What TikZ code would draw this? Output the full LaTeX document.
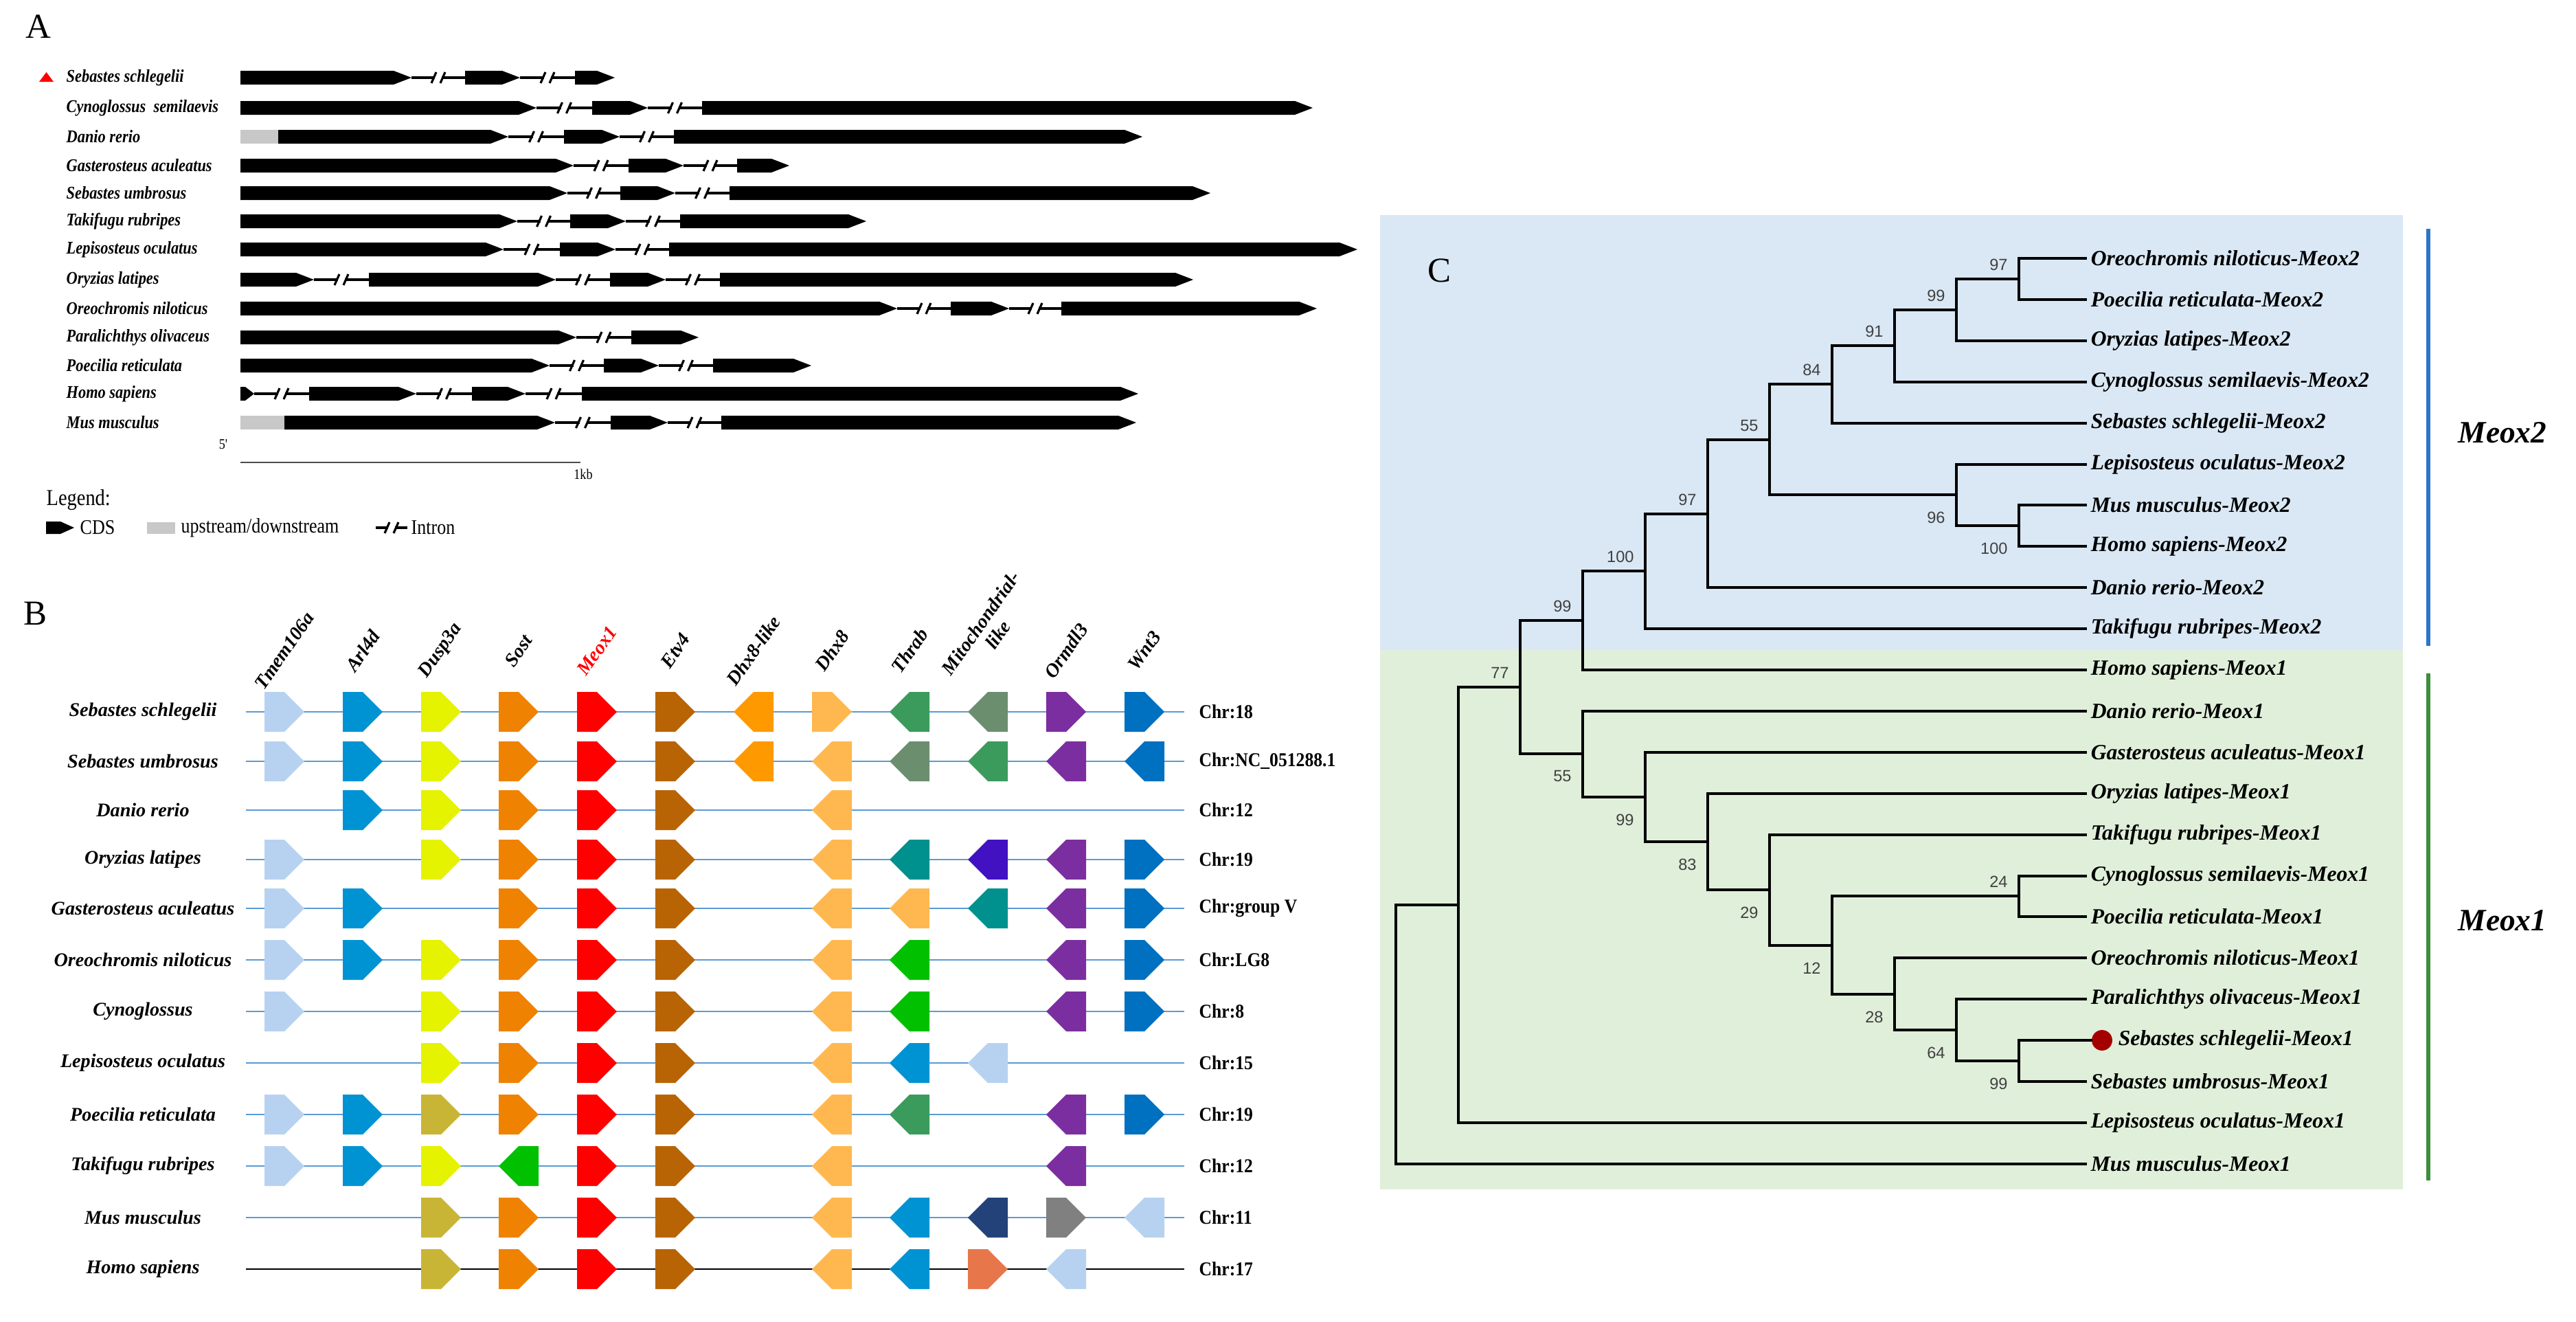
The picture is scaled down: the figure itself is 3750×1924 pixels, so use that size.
\documentclass[tikz,border=0pt]{standalone}
\usepackage{fontspec}
\setmainfont{Liberation Serif}
\newfontfamily\numfont{Liberation Sans}
\newfontfamily\narrowserif[FakeStretch=0.86]{Liberation Serif}
\newfontfamily\chrfont[FakeStretch=0.9]{Liberation Serif}

\definecolor{ctmem}{HTML}{B7D2F1}
\definecolor{carl}{HTML}{0093D3}
\definecolor{cdusp}{HTML}{E5F200}
\definecolor{colive}{HTML}{C9B535}
\definecolor{csost}{HTML}{EF8200}
\definecolor{cmeox}{HTML}{FF0000}
\definecolor{cetv}{HTML}{B86405}
\definecolor{cdhxl}{HTML}{FF9900}
\definecolor{cdhx}{HTML}{FFB850}
\definecolor{cgreen}{HTML}{3A9B5C}
\definecolor{cgraygreen}{HTML}{6B8E6F}
\definecolor{cbgreen}{HTML}{00C000}
\definecolor{cteal}{HTML}{00908E}
\definecolor{cindigo}{HTML}{4111C2}
\definecolor{cpurple}{HTML}{7B2EA0}
\definecolor{cwnt}{HTML}{0070C0}
\definecolor{cnavy}{HTML}{23427A}
\definecolor{cgray}{HTML}{808080}
\definecolor{ccoral}{HTML}{E8764B}
\definecolor{lineblue}{HTML}{5B9BD5}
\definecolor{bgblue}{HTML}{DAE8F5}
\definecolor{bggreen}{HTML}{E0EFDA}
\definecolor{barblue}{HTML}{2E75C6}
\definecolor{bargreen}{HTML}{3E8E3E}
\definecolor{dotred}{HTML}{A50000}
\definecolor{upgray}{HTML}{C8C8C8}

% exon: x1, x2, y
\newcommand\exon[3]{\fill[black] (#1,#3-10) -- (#2-26,#3-10) -- (#2,#3) -- (#2-26,#3+10) -- (#1,#3+10) -- cycle;}
% intron: x1, x2, y
\newcommand\intron[3]{%
  \draw[intronline] (#1,#3) -- ({(#1+#2)/2-5},#3) ({(#1+#2)/2+5},#3) -- (#2,#3);
  \draw[intronline] ({(#1+#2)/2-10},#3+8) -- ({(#1+#2)/2-3},#3-8) ({(#1+#2)/2+3},#3+8) -- ({(#1+#2)/2+10},#3-8);}
% gene boxes: cx, cy, colour
\newcommand\gf[3]{\fill[#3] (#1-29,#2-29) -- (#1,#2-29) -- (#1+29,#2) -- (#1,#2+29) -- (#1-29,#2+29) -- cycle;}
\newcommand\gr[3]{\fill[#3] (#1+29,#2-29) -- (#1,#2-29) -- (#1-29,#2) -- (#1,#2+29) -- (#1+29,#2+29) -- cycle;}

\tikzset{
  panellbl/.style={font=\fontsize{14.5}{16}\selectfont, inner sep=0pt},
  spA/.style={font=\narrowserif\bfseries\itshape\fontsize{7.4}{8}\selectfont, anchor=west, inner sep=0pt},
  spB/.style={font=\bfseries\itshape\fontsize{8}{9}\selectfont, inner sep=0pt},
  genelbl/.style={font=\bfseries\itshape\fontsize{8}{8.6}\selectfont, inner sep=0pt, rotate=55},
  chrlbl/.style={font=\chrfont\bfseries\fontsize{8.1}{9}\selectfont, anchor=west, inner sep=0pt},
  leaf/.style={font=\bfseries\itshape\fontsize{9}{10}\selectfont, anchor=west, inner xsep=2pt, inner ysep=0pt},
  boot/.style={font=\numfont\fontsize{6.7}{7}\selectfont, text=black!75, inner sep=0pt},
  clade/.style={font=\bfseries\itshape\fontsize{12.9}{14}\selectfont, inner sep=0pt},
  branch/.style={line width=1.1pt, line cap=rect, line join=miter},
  intronline/.style={line width=0.9pt},
  chrline/.style={line width=0.7pt, draw=lineblue},
  legtxt/.style={font=\narrowserif\fontsize{8.6}{9}\selectfont, anchor=west, inner sep=0pt},
  smalltxt/.style={font=\narrowserif\fontsize{6}{7}\selectfont, inner sep=0pt},
  above lbl/.style={boot, anchor=south east},
  below lbl/.style={boot, anchor=north east},
}

\begin{document}
\begin{tikzpicture}[x=0.01cm, y=-0.01cm]
\useasboundingbox (0,0) rectangle (3750,1924);
\fill[white] (0,0) rectangle (3750,1924);

%================ PANEL A ================
\node[panellbl] (pA) at (56,39) {A};

\fill[red] (57,119) -- (78,119) -- (67.5,105) -- cycle;
\node[spA] (a1)  at (96,113) {Sebastes schlegelii};
\node[spA] (a2)  at (96,157) {Cynoglossus~~semilaevis};
\node[spA] (a3)  at (96,199) {Danio rerio};
\node[spA] (a4)  at (96,241) {Gasterosteus aculeatus};
\node[spA] (a5)  at (96,281) {Sebastes umbrosus};
\node[spA] (a6)  at (96,322) {Takifugu rubripes};
\node[spA] (a7)  at (96,363) {Lepisosteus oculatus};
\node[spA] (a8)  at (96,407) {Oryzias latipes};
\node[spA] (a9)  at (96,449) {Oreochromis niloticus};
\node[spA] (a10) at (96,491) {Paralichthys olivaceus};
\node[spA] (a11) at (96,532) {Poecilia reticulata};
\node[spA] (a12) at (96,573) {Homo sapiens};
\node[spA] (a13) at (96,615) {Mus musculus};

% row 1
\exon{350}{599}{113} \intron{599}{677}{113} \exon{677}{757}{113} \intron{757}{837}{113} \exon{837}{895}{113}
% row 2
\exon{350}{781}{157} \intron{781}{862}{157} \exon{862}{943}{157} \intron{943}{1022}{157} \exon{1022}{1911}{157}
% row 3
\fill[upgray] (350,189) rectangle (405,209);
\exon{405}{740}{199} \intron{740}{821}{199} \exon{821}{902}{199} \intron{902}{981}{199} \exon{981}{1663}{199}
% row 4
\exon{350}{835}{241} \intron{835}{915}{241} \exon{915}{995}{241} \intron{995}{1073}{241} \exon{1073}{1149}{241}
% row 5
\exon{350}{826}{281} \intron{826}{903}{281} \exon{903}{983}{281} \intron{983}{1062}{281} \exon{1062}{1762}{281}
% row 6
\exon{350}{753}{322} \intron{753}{830}{322} \exon{830}{911}{322} \intron{911}{990}{322} \exon{990}{1261}{322}
% row 7
\exon{350}{733}{363} \intron{733}{815}{363} \exon{815}{896}{363} \intron{896}{974}{363} \exon{974}{1976}{363}
% row 8
\exon{350}{457}{407} \intron{457}{537}{407} \exon{537}{809}{407} \intron{809}{888}{407} \exon{888}{969}{407} \intron{969}{1048}{407} \exon{1048}{1737}{407}
% row 9
\exon{350}{1306}{449} \intron{1306}{1384}{449} \exon{1384}{1469}{449} \intron{1469}{1545}{449} \exon{1545}{1917}{449}
% row 10
\exon{350}{839}{491} \intron{839}{919}{491} \exon{919}{1017}{491}
% row 11
\exon{350}{800}{532} \intron{800}{879}{532} \exon{879}{959}{532} \intron{959}{1038}{532} \exon{1038}{1181}{532}
% row 12
\fill[black] (350,563) -- (357,563) -- (370,573) -- (357,583) -- (350,583) -- cycle;
\intron{370}{450}{573} \exon{450}{606}{573} \intron{606}{687}{573} \exon{687}{765}{573} \intron{765}{847}{573} \exon{847}{1657}{573}
% row 13
\fill[upgray] (350,605) rectangle (414,625);
\exon{414}{808}{615} \intron{808}{889}{615} \exon{889}{972}{615} \intron{972}{1050}{615} \exon{1050}{1654}{615}

% scale
\node[smalltxt] (five) at (325,647) {5'};
\draw[line width=0.6pt, black!70] (350,673) -- (845,673);
\node[smalltxt] (kb) at (849,690) {1kb};

% legend
\node[legtxt, font=\narrowserif\fontsize{9.4}{10}\selectfont] (leg) at (67,728) {Legend:};
\fill[black] (67,759) -- (88,759) -- (108,768) -- (88,777) -- (67,777) -- cycle;
\node[legtxt] (lcds) at (116,768) {CDS};
\fill[upgray] (214,760) rectangle (255,777);
\node[legtxt] (lup) at (263,768) {upstream/downstream};
\intron{547}{593}{768}
\node[legtxt] (lint) at (598,768) {Intron};

%================ PANEL B ================
\node[panellbl] (pB) at (52,893) {B};

\node[genelbl] (g1)  at (414,947)  {Tmem106a};
\node[genelbl] (g2)  at (528,947)  {Arl4d};
\node[genelbl] (g3)  at (642,947)  {Dusp3a};
\node[genelbl] (g4)  at (755,947)  {Sost};
\node[genelbl, text=red] (g5) at (869,947) {Meox1};
\node[genelbl] (g6)  at (983,947)  {Etv4};
\node[genelbl] (g7)  at (1097,947) {Dhx8-like};
\node[genelbl] (g8)  at (1211,947) {Dhx8};
\node[genelbl] (g9)  at (1324,947) {Thrab};
\node[genelbl, align=center] (g10) at (1440,915) {Mitochondrial-\\like};
\node[genelbl] (g11) at (1552,947) {Ormdl3};
\node[genelbl] (g12) at (1666,947) {Wnt3};

% chromosome lines
\foreach \yy in {1036,1108,1179,1251,1322,1397,1472,1547,1622,1697,1772}
  \draw[chrline] (358,\yy) -- (1724,\yy);
\draw[line width=0.7pt, black] (358,1847) -- (1724,1847);

% species labels
\node[spB] (s1)  at (208,1036) {Sebastes schlegelii};
\node[spB] (s2)  at (208,1108) {Sebastes umbrosus};
\node[spB] (s3)  at (208,1179) {Danio rerio};
\node[spB] (s4)  at (208,1251) {Oryzias latipes};
\node[spB] (s5)  at (208,1322) {Gasterosteus aculeatus};
\node[spB] (s6)  at (208,1397) {Oreochromis niloticus};
\node[spB] (s7)  at (208,1472) {Cynoglossus};
\node[spB] (s8)  at (208,1547) {Lepisosteus oculatus};
\node[spB] (s9)  at (208,1622) {Poecilia reticulata};
\node[spB] (s10) at (208,1697) {Takifugu rubripes};
\node[spB] (s11) at (208,1772) {Mus musculus};
\node[spB] (s12) at (208,1847) {Homo sapiens};

% chromosome labels
\node[chrlbl] (c1)  at (1745,1036) {Chr:18};
\node[chrlbl] (c2)  at (1745,1108) {Chr:NC\_051288.1};
\node[chrlbl] (c3)  at (1745,1179) {Chr:12};
\node[chrlbl] (c4)  at (1745,1251) {Chr:19};
\node[chrlbl] (c5)  at (1745,1322) {Chr:group V};
\node[chrlbl] (c6)  at (1745,1397) {Chr:LG8};
\node[chrlbl] (c7)  at (1745,1472) {Chr:8};
\node[chrlbl] (c8)  at (1745,1547) {Chr:15};
\node[chrlbl] (c9)  at (1745,1622) {Chr:19};
\node[chrlbl] (c10) at (1745,1697) {Chr:12};
\node[chrlbl] (c11) at (1745,1772) {Chr:11};
\node[chrlbl] (c12) at (1745,1847) {Chr:17};

% row 1
\gf{414}{1036}{ctmem} \gf{528}{1036}{carl} \gf{642}{1036}{cdusp} \gf{755}{1036}{csost} \gf{869}{1036}{cmeox} \gf{983}{1036}{cetv}
\gr{1097}{1036}{cdhxl} \gf{1211}{1036}{cdhx} \gr{1324}{1036}{cgreen} \gr{1438}{1036}{cgraygreen} \gf{1552}{1036}{cpurple} \gf{1666}{1036}{cwnt}
% row 2
\gf{414}{1108}{ctmem} \gf{528}{1108}{carl} \gf{642}{1108}{cdusp} \gf{755}{1108}{csost} \gf{869}{1108}{cmeox} \gf{983}{1108}{cetv}
\gr{1097}{1108}{cdhxl} \gr{1211}{1108}{cdhx} \gr{1324}{1108}{cgraygreen} \gr{1438}{1108}{cgreen} \gr{1552}{1108}{cpurple} \gr{1666}{1108}{cwnt}
% row 3
\gf{528}{1179}{carl} \gf{642}{1179}{cdusp} \gf{755}{1179}{csost} \gf{869}{1179}{cmeox} \gf{983}{1179}{cetv} \gr{1211}{1179}{cdhx}
% row 4
\gf{414}{1251}{ctmem} \gf{642}{1251}{cdusp} \gf{755}{1251}{csost} \gf{869}{1251}{cmeox} \gf{983}{1251}{cetv}
\gr{1211}{1251}{cdhx} \gr{1324}{1251}{cteal} \gr{1438}{1251}{cindigo} \gr{1552}{1251}{cpurple} \gf{1666}{1251}{cwnt}
% row 5
\gf{414}{1322}{ctmem} \gf{528}{1322}{carl} \gf{755}{1322}{csost} \gf{869}{1322}{cmeox} \gf{983}{1322}{cetv}
\gr{1211}{1322}{cdhx} \gr{1324}{1322}{cdhx} \gr{1438}{1322}{cteal} \gr{1552}{1322}{cpurple} \gf{1666}{1322}{cwnt}
% row 6
\gf{414}{1397}{ctmem} \gf{528}{1397}{carl} \gf{642}{1397}{cdusp} \gf{755}{1397}{csost} \gf{869}{1397}{cmeox} \gf{983}{1397}{cetv}
\gr{1211}{1397}{cdhx} \gr{1324}{1397}{cbgreen} \gr{1552}{1397}{cpurple} \gf{1666}{1397}{cwnt}
% row 7
\gf{414}{1472}{ctmem} \gf{642}{1472}{cdusp} \gf{755}{1472}{csost} \gf{869}{1472}{cmeox} \gf{983}{1472}{cetv}
\gr{1211}{1472}{cdhx} \gr{1324}{1472}{cbgreen} \gr{1552}{1472}{cpurple} \gf{1666}{1472}{cwnt}
% row 8
\gf{642}{1547}{cdusp} \gf{755}{1547}{csost} \gf{869}{1547}{cmeox} \gf{983}{1547}{cetv}
\gr{1211}{1547}{cdhx} \gr{1324}{1547}{carl} \gr{1438}{1547}{ctmem}
% row 9
\gf{414}{1622}{ctmem} \gf{528}{1622}{carl} \gf{642}{1622}{colive} \gf{755}{1622}{csost} \gf{869}{1622}{cmeox} \gf{983}{1622}{cetv}
\gr{1211}{1622}{cdhx} \gr{1324}{1622}{cgreen} \gr{1552}{1622}{cpurple} \gf{1666}{1622}{cwnt}
% row 10
\gf{414}{1697}{ctmem} \gf{528}{1697}{carl} \gf{642}{1697}{cdusp} \gr{755}{1697}{cbgreen} \gf{869}{1697}{cmeox} \gf{983}{1697}{cetv}
\gr{1211}{1697}{cdhx} \gr{1552}{1697}{cpurple}
% row 11
\gf{642}{1772}{colive} \gf{755}{1772}{csost} \gf{869}{1772}{cmeox} \gf{983}{1772}{cetv}
\gr{1211}{1772}{cdhx} \gr{1324}{1772}{carl} \gr{1438}{1772}{cnavy} \gf{1552}{1772}{cgray} \gr{1666}{1772}{ctmem}
% row 12
\gf{642}{1847}{colive} \gf{755}{1847}{csost} \gf{869}{1847}{cmeox} \gf{983}{1847}{cetv}
\gr{1211}{1847}{cdhx} \gr{1324}{1847}{carl} \gf{1438}{1847}{ccoral} \gr{1552}{1847}{ctmem}

%================ PANEL C ================
\fill[bgblue] (2009,313) rectangle (3498,946);
\fill[bggreen] (2009,946) rectangle (3498,1731);
\node[panellbl] (pC) at (2095,394) {C};

\draw[barblue, line width=1.5pt] (3535,333) -- (3535,940);
\draw[bargreen, line width=1.5pt] (3535,980) -- (3535,1718);
\node[clade] (m2) at (3643,630) {Meox2};
\node[clade] (m1) at (3643,1340) {Meox1};

% internal nodes
\coordinate (root) at (2032,1506);
\coordinate (n1)  at (2123,1317);
\coordinate (n2)  at (2213,1000);
\coordinate (n3)  at (2304,903);
\coordinate (n4)  at (2304,1097);
\coordinate (n5)  at (2395,831);
\coordinate (n6)  at (2486,748);
\coordinate (n7)  at (2576,640);
\coordinate (n8)  at (2667,559);
\coordinate (n9)  at (2848,720);
\coordinate (n10) at (2758,503);
\coordinate (n11) at (2848,451);
\coordinate (n12) at (2939,406);
\coordinate (n13) at (2939,765);
\coordinate (n14) at (2395,1160);
\coordinate (n15) at (2486,1225);
\coordinate (n16) at (2576,1295);
\coordinate (n17) at (2667,1376);
\coordinate (n18) at (2939,1304);
\coordinate (n19) at (2758,1447);
\coordinate (n20) at (2848,1499);
\coordinate (n21) at (2939,1544);

% leaves
\node[leaf] (t0)  at (3036,376)  {Oreochromis niloticus-Meox2};
\node[leaf] (t1)  at (3036,436)  {Poecilia reticulata-Meox2};
\node[leaf] (t2)  at (3036,496)  {Oryzias latipes-Meox2};
\node[leaf] (t3)  at (3036,556)  {Cynoglossus semilaevis-Meox2};
\node[leaf] (t4)  at (3036,616)  {Sebastes schlegelii-Meox2};
\node[leaf] (t5)  at (3036,676)  {Lepisosteus oculatus-Meox2};
\node[leaf] (t6)  at (3036,735)  {Mus musculus-Meox2};
\node[leaf] (t7)  at (3036,795)  {Homo sapiens-Meox2};
\node[leaf] (t8)  at (3036,855)  {Danio rerio-Meox2};
\node[leaf] (t9)  at (3036,915)  {Takifugu rubripes-Meox2};
\node[leaf] (t10) at (3036,975)  {Homo sapiens-Meox1};
\node[leaf] (t11) at (3036,1035) {Danio rerio-Meox1};
\node[leaf] (t12) at (3036,1095) {Gasterosteus aculeatus-Meox1};
\node[leaf] (t13) at (3036,1155) {Oryzias latipes-Meox1};
\node[leaf] (t14) at (3036,1215) {Takifugu rubripes-Meox1};
\node[leaf] (t15) at (3036,1275) {Cynoglossus semilaevis-Meox1};
\node[leaf] (t16) at (3036,1334) {Poecilia reticulata-Meox1};
\node[leaf] (t17) at (3036,1394) {Oreochromis niloticus-Meox1};
\node[leaf] (t18) at (3036,1454) {Paralichthys olivaceus-Meox1};
\node[circle, fill=dotred, inner sep=0pt, minimum size=8.5pt] (dot) at (3060,1514) {};
\node[leaf] (t19) at (3076,1514) {Sebastes schlegelii-Meox1};
\node[leaf] (t20) at (3036,1574) {Sebastes umbrosus-Meox1};
\node[leaf] (t21) at (3036,1634) {Lepisosteus oculatus-Meox1};
\node[leaf] (t22) at (3036,1694) {Mus musculus-Meox1};

% branches
\draw[branch] (root) |- (n1);  \draw[branch] (root) |- (t22.west);
\draw[branch] (n1) |- (n2);    \draw[branch] (n1) |- (t21.west);
\draw[branch] (n2) |- (n3);    \draw[branch] (n2) |- (n4);
\draw[branch] (n3) |- (n5);    \draw[branch] (n3) |- (t10.west);
\draw[branch] (n5) |- (n6);    \draw[branch] (n5) |- (t9.west);
\draw[branch] (n6) |- (n7);    \draw[branch] (n6) |- (t8.west);
\draw[branch] (n7) |- (n8);    \draw[branch] (n7) |- (n9);
\draw[branch] (n8) |- (n10);   \draw[branch] (n8) |- (t4.west);
\draw[branch] (n10) |- (n11);  \draw[branch] (n10) |- (t3.west);
\draw[branch] (n11) |- (n12);  \draw[branch] (n11) |- (t2.west);
\draw[branch] (n12) |- (t0.west); \draw[branch] (n12) |- (t1.west);
\draw[branch] (n9) |- (t5.west);  \draw[branch] (n9) |- (n13);
\draw[branch] (n13) |- (t6.west); \draw[branch] (n13) |- (t7.west);
\draw[branch] (n4) |- (t11.west); \draw[branch] (n4) |- (n14);
\draw[branch] (n14) |- (t12.west); \draw[branch] (n14) |- (n15);
\draw[branch] (n15) |- (t13.west); \draw[branch] (n15) |- (n16);
\draw[branch] (n16) |- (t14.west); \draw[branch] (n16) |- (n17);
\draw[branch] (n17) |- (n18);  \draw[branch] (n17) |- (n19);
\draw[branch] (n18) |- (t15.west); \draw[branch] (n18) |- (t16.west);
\draw[branch] (n19) |- (t17.west); \draw[branch] (n19) |- (n20);
\draw[branch] (n20) |- (t18.west); \draw[branch] (n20) |- (n21);
\draw[branch] (n21) |- (dot.west); \draw[branch] (n21) |- (t20.west);

% bootstrap values
\node[above lbl] (b12) at ([xshift=-4.5pt,yshift=3.4pt]n12) {97};
\node[above lbl] (b11) at ([xshift=-4.5pt,yshift=3.4pt]n11) {99};
\node[above lbl] (b10) at ([xshift=-4.5pt,yshift=3.4pt]n10) {91};
\node[above lbl] (b8)  at ([xshift=-4.5pt,yshift=3.4pt]n8)  {84};
\node[above lbl] (b7)  at ([xshift=-4.5pt,yshift=3.4pt]n7)  {55};
\node[above lbl] (b6)  at ([xshift=-4.5pt,yshift=3.4pt]n6)  {97};
\node[above lbl] (b5)  at ([xshift=-4.5pt,yshift=3.4pt]n5)  {100};
\node[above lbl] (b3)  at ([xshift=-4.5pt,yshift=3.4pt]n3)  {99};
\node[above lbl] (b2)  at ([xshift=-4.5pt,yshift=3.4pt]n2)  {77};
\node[above lbl] (b18) at ([xshift=-4.5pt,yshift=3.4pt]n18) {24};
\node[below lbl] (b9)  at ([xshift=-4.5pt,yshift=-6.8pt]n9)  {96};
\node[below lbl] (b13) at ([xshift=-4.5pt,yshift=-6.8pt]n13) {100};
\node[below lbl] (b4)  at ([xshift=-4.5pt,yshift=-6.8pt]n4)  {55};
\node[below lbl] (b14) at ([xshift=-4.5pt,yshift=-6.8pt]n14) {99};
\node[below lbl] (b15) at ([xshift=-4.5pt,yshift=-6.8pt]n15) {83};
\node[below lbl] (b16) at ([xshift=-4.5pt,yshift=-6.8pt]n16) {29};
\node[below lbl] (b17) at ([xshift=-4.5pt,yshift=-6.8pt]n17) {12};
\node[below lbl] (b19) at ([xshift=-4.5pt,yshift=-6.8pt]n19) {28};
\node[below lbl] (b20) at ([xshift=-4.5pt,yshift=-6.8pt]n20) {64};
\node[below lbl] (b21) at ([xshift=-4.5pt,yshift=-6.8pt]n21) {99};
\end{tikzpicture}
\end{document}
